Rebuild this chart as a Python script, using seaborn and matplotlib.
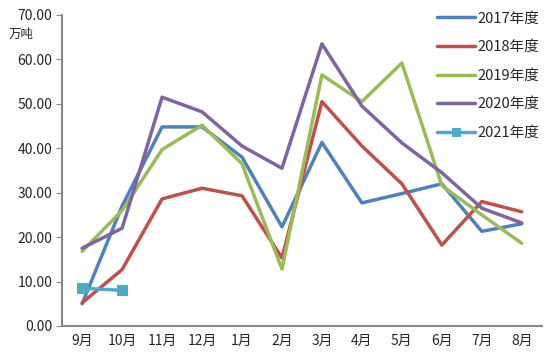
import numpy as np
import pandas as pd
import seaborn as sns
from matplotlib import pyplot as plt

months = ['9月', '10月', '11月', '12月', '1月', '2月', '3月', '4月', '5月', '6月', '7月', '8月']
v2017 = [5.0, 27.0, 44.8, 44.8, 38.0, 22.3, 41.3, 27.7, 29.8, 32.0, 21.3, 23.0]
v2018 = [5.2, 12.7, 28.6, 31.0, 29.3, 15.3, 50.5, 40.5, 32.0, 18.2, 28.0, 25.7]
v2019 = [16.8, 26.0, 39.7, 45.2, 36.5, 12.8, 56.5, 50.5, 59.2, 31.6, 25.0, 18.6]
v2020 = [17.5, 22.0, 51.5, 48.2, 40.5, 35.5, 63.5, 49.5, 41.2, 34.5, 26.5, 23.2]
v2021 = [8.5, 8.0]

series = ['2017年度', '2018年度', '2019年度', '2020年度', '2021年度']
colors = ['#4F81BD', '#C0504D', '#9BBB59', '#8064A2', '#4BACC6']

rows = []
for name, vals in zip(series, [v2017, v2018, v2019, v2020, v2021]):
    for i, v in enumerate(vals):
        rows.append({'month': i, 'value': v, 'year': name})
df = pd.DataFrame(rows)

sns.set_style('white')
plt.rcParams['font.family'] = ['Noto Sans CJK SC', 'DejaVu Sans']

fig = plt.figure(figsize=(5.5, 3.57), dpi=100)
ax = fig.add_axes([0.113, 0.087, 0.872, 0.871])

for name, c in zip(series, colors):
    sub = df[df['year'] == name]
    if name == '2021年度':
        sns.lineplot(data=sub, x='month', y='value', ax=ax, color=c, lw=2.5,
                     marker='s', markersize=7, markeredgecolor=c, label=name)
    else:
        sns.lineplot(data=sub, x='month', y='value', ax=ax, color=c, lw=2.5, label=name)

ax.set_xlim(-0.5, 11.5)
ax.set_ylim(0, 70)
ax.set_yticks(np.arange(0, 71, 10))
ax.set_yticklabels([f'{t:.2f}' for t in np.arange(0, 71, 10)], fontsize=10)
ax.set_xticks(range(12))
ax.set_xticklabels(months, fontsize=10)
ax.set_xticks(np.arange(-0.5, 12, 1), minor=True)
ax.tick_params(axis='x', which='major', length=0, pad=6)
ax.tick_params(axis='x', which='minor', length=4, color='#888888', direction='out')
ax.tick_params(axis='y', length=4, color='#888888', direction='out', left=True, pad=3)
ax.set_xlabel('')
ax.set_ylabel('')
for s in ['top', 'right']:
    ax.spines[s].set_visible(False)
for s in ['left', 'bottom']:
    ax.spines[s].set_color('#888888')
    ax.spines[s].set_linewidth(1.5)

fig.text(0.015, 0.895, '万吨', fontsize=9)

ax.legend(loc='upper left', bbox_to_anchor=(0.77, 1.03), frameon=False, fontsize=10.5,
          handlelength=2.6, labelspacing=1.0, handletextpad=0.15, borderaxespad=0,
          markerscale=0.8)

fig.savefig('out.png', dpi=100)
